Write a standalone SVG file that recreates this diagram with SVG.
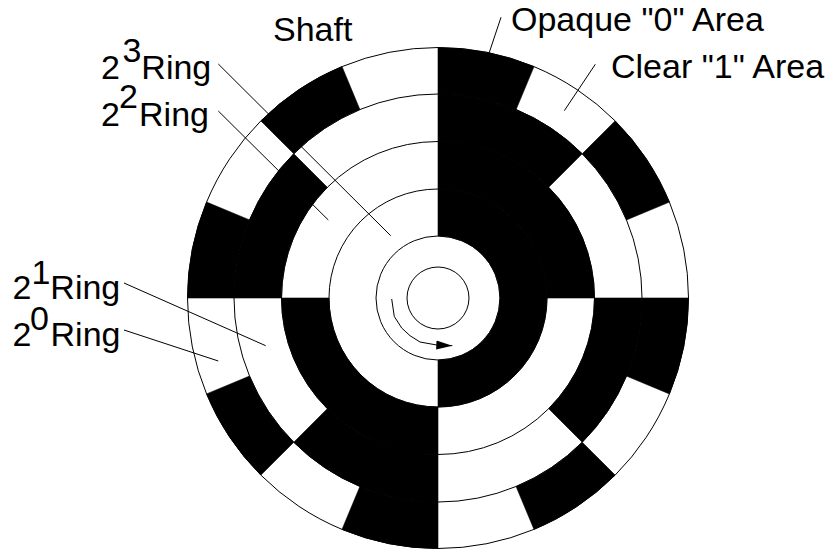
<svg xmlns="http://www.w3.org/2000/svg" width="830" height="550" viewBox="0 0 830 550">
<style>
text{font-family:"Liberation Sans",Arial,sans-serif;font-size:34px;fill:#000}
.k{fill:#000;stroke:#000;stroke-width:.6}
.l{fill:none;stroke:#000;stroke-width:1}
</style>
<defs>
<marker id="a" markerUnits="userSpaceOnUse" markerWidth="17" markerHeight="10" refX="16" refY="5" orient="auto"><path d="M0,0.500L16,5L0,9.500z" fill="#000"/></marker>
</defs>
<rect width="830" height="550" fill="#fff"/>
<g id="disc">
<path class="k" d="M438,47.500A250.500,250.500 0 0 1 534,66.600L516.100,109.600A204,204 0 0 0 438,94Z"/>
<path class="k" d="M615.100,120.900A250.500,250.500 0 0 1 669.400,202.100L626.500,219.900A204,204 0 0 0 582.200,153.800Z"/>
<path class="k" d="M688.500,298A250.500,250.500 0 0 1 669.400,393.900L626.500,376.100A204,204 0 0 0 642,298Z"/>
<path class="k" d="M615.100,475.100A250.500,250.500 0 0 1 534,529.400L516.100,486.500A204,204 0 0 0 582.200,442.200Z"/>
<path class="k" d="M438,548.500A250.500,250.500 0 0 1 342,529.400L359.900,486.500A204,204 0 0 0 438,502Z"/>
<path class="k" d="M260.900,475.100A250.500,250.500 0 0 1 206.600,393.900L249.500,376.100A204,204 0 0 0 293.800,442.200Z"/>
<path class="k" d="M187.500,298A250.500,250.500 0 0 1 206.600,202.100L249.500,219.900A204,204 0 0 0 234,298Z"/>
<path class="k" d="M260.900,120.900A250.500,250.500 0 0 1 342,66.600L359.900,109.600A204,204 0 0 0 293.800,153.800Z"/>
<path class="k" d="M438,94A204,204 0 0 1 582.200,153.800L548.700,187.300A156.500,156.500 0 0 0 438,141.500Z"/>
<path class="k" d="M642,298A204,204 0 0 1 582.200,442.200L548.700,408.700A156.500,156.500 0 0 0 594.500,298Z"/>
<path class="k" d="M438,502A204,204 0 0 1 293.800,442.200L327.300,408.700A156.500,156.500 0 0 0 438,454.500Z"/>
<path class="k" d="M234,298A204,204 0 0 1 293.800,153.800L327.300,187.300A156.500,156.500 0 0 0 281.500,298Z"/>
<path class="k" d="M438,141.500A156.500,156.500 0 0 1 594.500,298H547A109,109 0 0 0 438,189Z"/>
<path class="k" d="M438,454.500A156.500,156.500 0 0 1 281.500,298H329A109,109 0 0 0 438,407Z"/>
<path class="k" d="M438,189A109,109 0 0 1 438,407V360A62,62 0 0 0 438,236Z"/>
<circle class="l" cx="438" cy="298" r="250.500"/>
<circle class="l" cx="438" cy="298" r="204"/>
<circle class="l" cx="438" cy="298" r="156.500"/>
<circle class="l" cx="438" cy="298" r="109"/>
<circle class="l" cx="438" cy="298" r="62"/>
</g>
<g id="shaft">
<circle class="l" cx="438" cy="298" r="31"/>
</g>
<g id="connectors">
<path class="l" d="M218.300,64L390.700,235.700"/>
<path class="l" d="M218.300,111L328.300,220"/>
<path class="l" d="M501,17.300L489,53.300"/>
<path class="l" d="M595.300,64.300L564.300,110.700"/>
<path class="l" d="M124,283L265.700,345.700"/>
<path class="l" d="M124,330L218.300,361"/>
<path class="l" d="M391.700,299L394.300,316.500L401.700,328L410,335.700L420,342L436.700,345L452.300,345.700" marker-end="url(#a)"/>
</g>
<g id="labels">
<text x="273" y="41">Shaft</text>
<text x="511" y="31">Opaque "0" Area</text>
<text x="611" y="78">Clear "1" Area</text>
<text x="101" y="79">2<tspan dx="2.500" dy="-17.500">3</tspan><tspan dy="17.500">Ring</tspan></text>
<text x="101" y="126">2<tspan dx="-.900" dy="-18.500">2</tspan><tspan dx="1.100" dy="18.500">Ring</tspan></text>
<text x="12.500" y="298.500">2<tspan dy="-15">1</tspan><tspan dy="15">Ring</tspan></text>
<text x="12.500" y="345.500">2<tspan dx="-1.400" dy="-15.500">0</tspan><tspan dx="1.600" dy="15.500">Ring</tspan></text>
</g>
</svg>
